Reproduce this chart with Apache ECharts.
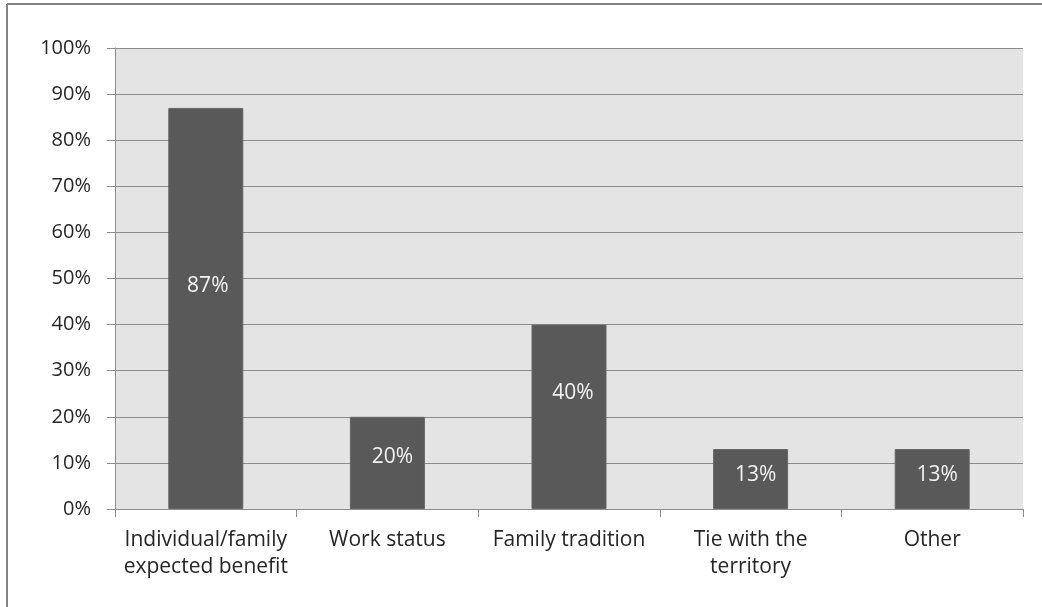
<!DOCTYPE html>
<html>
<head>
<meta charset="utf-8">
<script src="https://cdn.jsdelivr.net/npm/echarts@6/dist/echarts.min.js"></script>
<style>
  html, body { margin: 0; padding: 0; background: #ffffff; }
  #chart { width: 1042px; height: 607px; }
</style>
</head>
<body>
<div id="chart"></div>
<script>
// Reasons for choice (share of respondents, %)
const categories = [
  'Individual/family\nexpected benefit',
  'Work status',
  'Family tradition',
  'Tie with the\nterritory',
  'Other'
];
const shares = [87, 20, 40, 13, 13];
const yTicks = [0, 10, 20, 30, 40, 50, 60, 70, 80, 90, 100];

// per-bar nudges of the value labels inside the bars
const labelNudge = [[2, -22], [5, -6], [4, -24], [5, -4], [5, -4]];

const FONT = '"Open Sans", "Liberation Sans", sans-serif';
const chart = echarts.init(document.getElementById('chart'), null, { renderer: 'canvas' });

chart.setOption({
  backgroundColor: '#ffffff',
  animation: false,
  graphic: [
    { type: 'line', shape: { x1: 7, y1: 4, x2: 1042, y2: 4 }, style: { stroke: '#858585', lineWidth: 2 } },
    { type: 'line', shape: { x1: 7, y1: 4, x2: 7, y2: 607 }, style: { stroke: '#858585', lineWidth: 2 } }
  ],
  grid: {
    left: 115, right: 19, top: 48, bottom: 98,
    show: true, backgroundColor: '#e4e4e4', borderWidth: 0
  },
  xAxis: {
    type: 'category',
    data: categories,
    axisLine: { show: true, lineStyle: { color: '#8c8c8c', width: 1 } },
    axisTick: { show: true, alignWithLabel: false, length: 8, lineStyle: { color: '#8c8c8c' } },
    axisLabel: {
      interval: 0, margin: 18, color: '#262626',
      fontFamily: FONT, fontSize: 21, lineHeight: 27, align: 'center'
    }
  },
  yAxis: {
    type: 'value',
    min: yTicks[0], max: yTicks[yTicks.length - 1], interval: 10,
    axisLine: { show: true, lineStyle: { color: '#8c8c8c', width: 1 } },
    axisTick: { show: true, length: 8, lineStyle: { color: '#8c8c8c' } },
    splitLine: { show: true, lineStyle: { color: '#8c8c8c', width: 1 } },
    axisLabel: {
      margin: 24, color: '#262626', fontFamily: FONT, fontSize: 20,
      formatter: '{value}%'
    }
  },
  series: [{
    type: 'bar',
    barWidth: 75,
    data: shares.map((v, i) => ({
      value: v,
      label: { offset: labelNudge[i] }
    })),
    itemStyle: { color: '#595959', borderColor: '#666666', borderWidth: 1 },
    label: {
      show: true, position: 'inside',
      formatter: '{c}%', color: '#f2f2f2',
      fontFamily: FONT, fontSize: 21
    }
  }]
});
</script>
</body>
</html>
